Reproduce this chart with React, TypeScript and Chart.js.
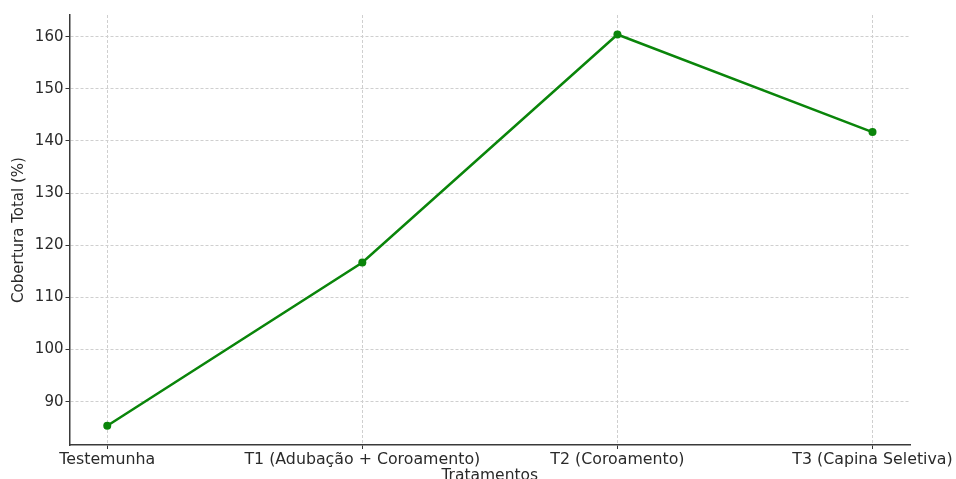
import React, { useEffect, useRef } from "react";
import { Chart, registerables } from "chart.js";

Chart.register(...registerables);

const categories: string[] = [
  "Testemunha",
  "T1 (Adubação + Coroamento)",
  "T2 (Coroamento)",
  "T3 (Capina Seletiva)",
];
const coverage: number[] = [85.4, 116.7, 160.4, 141.7];
const yTicks: number[] = [90, 100, 110, 120, 130, 140, 150, 160];
const yTitle = "Cobertura Total (%)";
const xTitle = "Tratamentos";

const FONT = "'DejaVu Sans', sans-serif";
const TEXT = "#2a2a2a";

export default function App() {
  const ref = useRef<HTMLCanvasElement | null>(null);

  useEffect(() => {
    if (!ref.current) return;
    const chart = new Chart(ref.current, {
      type: "line",
      data: {
        datasets: [
          {
            data: coverage.map((v, i) => ({ x: i, y: v })),
            borderColor: "#0a850a",
            backgroundColor: "#0a850a",
            borderWidth: 2.5,
            pointRadius: 4,
            pointBackgroundColor: "#0a850a",
            pointBorderWidth: 0,
            tension: 0,
          },
        ],
      },
      options: {
        responsive: false,
        animation: false,
        events: [],
        layout: { padding: { top: 15, right: 46, left: 0, bottom: 0 } },
        plugins: {
          legend: { display: false },
          tooltip: { enabled: false },
        },
        scales: {
          x: {
            type: "linear",
            min: -0.148,
            max: 3.147,
            afterBuildTicks: (s: any) => {
              s.ticks = categories.map((_, i) => ({ value: i }));
            },
            afterFit: (s: any) => {
              s.height = 40;
            },
            ticks: {
              autoSkip: false,
              maxRotation: 0,
              padding: 1,
              color: TEXT,
              font: { family: FONT, size: 15.8 },
              callback: (v: any) => categories[v as number] ?? "",
            },
            grid: {
              color: "#cfcfcf",
              lineWidth: 1,
              tickLength: 4,
              tickColor: "#333333",
              tickWidth: 1,
              tickBorderDash: [],
            },
            border: { display: true, color: "#3a3a3a", width: 1.5, dash: [3, 2] },
            title: {
              display: true,
              text: xTitle,
              color: TEXT,
              padding: 0,
              font: { family: FONT, size: 15.5 },
            },
          },
          y: {
            type: "linear",
            min: 81.7,
            max: 164.15,
            afterBuildTicks: (s: any) => {
              s.ticks = yTicks.map((v) => ({ value: v }));
            },
            afterFit: (s: any) => {
              s.width = 69.5;
            },
            ticks: {
              padding: 2,
              color: TEXT,
              font: { family: FONT, size: 15 },
            },
            grid: {
              color: "#cfcfcf",
              lineWidth: 1,
              tickLength: 4,
              tickColor: "#333333",
              tickWidth: 1,
              tickBorderDash: [],
            },
            border: { display: true, color: "#3a3a3a", width: 1.5, dash: [3, 2] },
            title: {
              display: true,
              text: yTitle,
              color: TEXT,
              padding: { top: 10, bottom: 0 },
              font: { family: FONT, size: 15 },
            },
          },
        },
      },
    } as any);
    return () => chart.destroy();
  }, []);

  return (
    <div
      style={{
        position: "fixed",
        left: 0,
        top: 0,
        width: 956,
        height: 479,
        overflow: "hidden",
        background: "#ffffff",
      }}
    >
      <canvas ref={ref} width={956} height={485} style={{ display: "block" }} />
    </div>
  );
}
